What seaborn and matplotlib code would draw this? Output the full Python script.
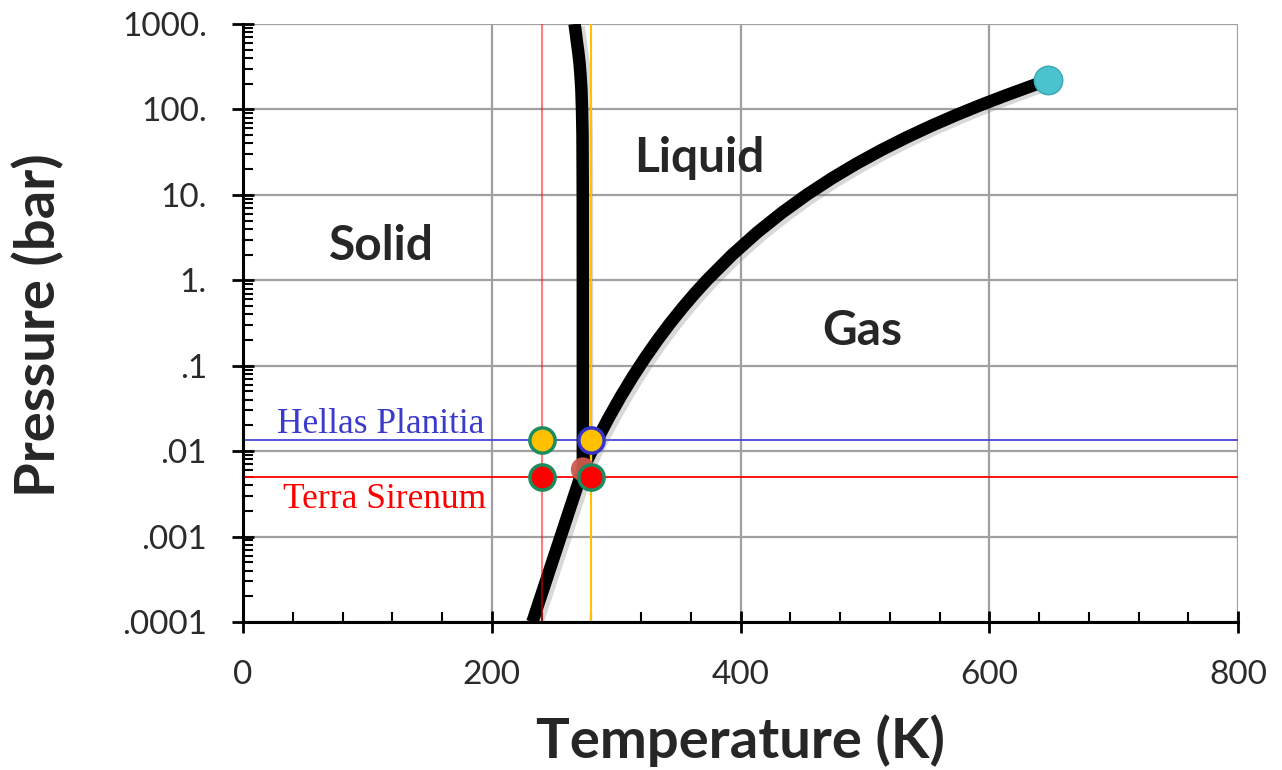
import matplotlib
matplotlib.use("Agg")
import matplotlib.pyplot as plt
import matplotlib.patheffects as pe
from matplotlib.ticker import FixedLocator, MultipleLocator, LogLocator, NullFormatter
import seaborn as sns
import pandas as pd

# phase boundaries of water (T in K, P in bar)
vap_T = [273.16, 283.15, 293.15, 303.15, 313.15, 323.15, 333.15, 343.15, 353.15, 363.15,
         373.15, 393.15, 413.15, 433.15, 453.15, 473.15, 493.15, 513.15, 533.15, 553.15,
         573.15, 593.15, 613.15, 633.15, 647.1]
vap_P = [0.00612, 0.0123, 0.0234, 0.0425, 0.0738, 0.1235, 0.1995, 0.312, 0.474, 0.702,
         1.014, 1.985, 3.613, 6.178, 10.03, 15.55, 23.2, 33.47, 46.92, 64.17,
         85.88, 112.9, 146.0, 186.7, 220.6]

sub_T = [232.6, 234, 238, 242, 246, 250, 254, 258, 262, 266, 270, 273.16]
sub_P = [0.0001, 0.000115, 0.000173, 0.000259, 0.000389, 0.000583, 0.000875,
         0.00131, 0.00197, 0.00295, 0.00443, 0.00612]

melt_T = [273.16, 273.15, 273.1, 272.9, 272.5, 272.0, 271.3, 270.5, 269.5, 268.5, 267.5, 266.5]
melt_P = [0.00612, 1, 10, 50, 100, 170, 250, 350, 470, 600, 780, 1000]

critical = (647.1, 220.6)
triple = (273.16, 0.00612)

# Mars sites
site_T = [240, 280]
hellas_P = 0.0135
terra_P = 0.005

y_ticks = [0.0001, 0.001, 0.01, 0.1, 1, 10, 100, 1000]
y_labels = ['.0001', '.001', '.01', '.1', '1.', '10.', '100.', '1000.']
x_ticks = [0, 200, 400, 600, 800]

sns.set_theme(style="white")
plt.rcParams['font.family'] = ['Lato', 'DejaVu Sans']

fig = plt.figure(figsize=(12.82, 7.70), dpi=100)
ax = fig.add_axes([0.1896, 0.1922, 0.7762, 0.7766])
ax.set_yscale('log')

shadow = [pe.SimpleLineShadow(offset=(3, -2), shadow_color='gray', alpha=0.3), pe.Normal()]
curves = [(vap_T, vap_P), (sub_T, sub_P), (melt_T, melt_P)]
for T, P in curves:
    df = pd.DataFrame({'T': T, 'P': P})
    sns.lineplot(data=df, x='T', y='P', sort=False, estimator=None, color='black',
                 lw=9, solid_capstyle='butt', solid_joinstyle='round', ax=ax,
                 zorder=3, path_effects=shadow)

# site lines
ax.axhline(hellas_P, color='#4848DC', lw=1.3, zorder=2)
ax.axhline(terra_P, color='#FF0000', lw=1.3, zorder=2)
ax.axvline(site_T[0], color='red', alpha=0.5, lw=1.5, zorder=4)
ax.axvline(site_T[1], color='#FFC000', lw=1.5, zorder=4)

# points
sns.scatterplot(x=[critical[0]], y=[critical[1]], s=420, color='#4BC3CE',
                edgecolor='#3AA6B0', linewidth=1, ax=ax, zorder=5)
sns.scatterplot(x=[triple[0]], y=[triple[1]], s=300, color='#CD5A4F',
                edgecolor='none', alpha=0.95, ax=ax, zorder=5)
sns.scatterplot(x=site_T, y=[terra_P, terra_P], s=330, color='#FF0000',
                edgecolor='#1B8C5E', linewidth=2.5, ax=ax, zorder=6)
sns.scatterplot(x=[site_T[0]], y=[hellas_P], s=330, color='#FFC000',
                edgecolor='#1B8C5E', linewidth=2.5, ax=ax, zorder=6)
sns.scatterplot(x=[site_T[1]], y=[hellas_P], s=330, color='#FFC000',
                edgecolor='#3434C8', linewidth=2.5, ax=ax, zorder=6)

# labels
ax.text(111, 1.73, 'Solid', fontsize=34.5, fontweight='bold', ha='center', va='baseline')
ax.text(367, 18.5, 'Liquid', fontsize=34.5, fontweight='bold', ha='center', va='baseline')
ax.text(498, 0.175, 'Gas', fontsize=34.5, fontweight='bold', ha='center', va='baseline')
ax.text(27, 0.0163, 'Hellas Planitia', fontsize=25.5, color='#3A3ACD',
        family='Liberation Serif', ha='left', va='baseline')
ax.text(32, 0.00216, 'Terra Sirenum', fontsize=25.5, color='#FF0000',
        family='Liberation Serif', ha='left', va='baseline')

ax.set_xlim(0, 800)
ax.set_ylim(0.0001, 1000)
ax.xaxis.set_major_locator(FixedLocator(x_ticks))
ax.xaxis.set_minor_locator(MultipleLocator(40))
ax.yaxis.set_major_locator(FixedLocator(y_ticks))
ax.yaxis.set_minor_locator(LogLocator(base=10, subs=range(2, 10), numticks=20))
ax.yaxis.set_minor_formatter(NullFormatter())
ax.set_yticklabels(y_labels)
ax.set_xticklabels([str(t) for t in x_ticks])

ax.grid(True, which='major', color='#A0A0A0', lw=1.6)
ax.set_axisbelow(True)
for s in ['top', 'right']:
    ax.spines[s].set_visible(False)
for s in ['left', 'bottom']:
    ax.spines[s].set_color('black')
    ax.spines[s].set_linewidth(2.2)
    ax.spines[s].set_zorder(7)

ax.tick_params(which='major', direction='inout', length=16, width=2, color='black',
               labelsize=24, labelcolor='#2b2b2b')
ax.tick_params(axis='y', which='major', pad=18)
ax.tick_params(axis='x', which='major', pad=19)
ax.tick_params(which='minor', direction='in', length=7, width=1.5, color='black')
ax.tick_params(axis='x', which='both', bottom=True)
ax.tick_params(axis='y', which='both', left=True)

ax.set_xlabel('Temperature (K)', fontsize=40.5, fontweight='bold')
ax.set_ylabel('Pressure (bar)', fontsize=40.5, fontweight='bold')
ax.xaxis.set_label_coords(0.5, -0.155)
ax.yaxis.set_label_coords(-0.18, 0.497)

fig.savefig('out.png', dpi=100)
